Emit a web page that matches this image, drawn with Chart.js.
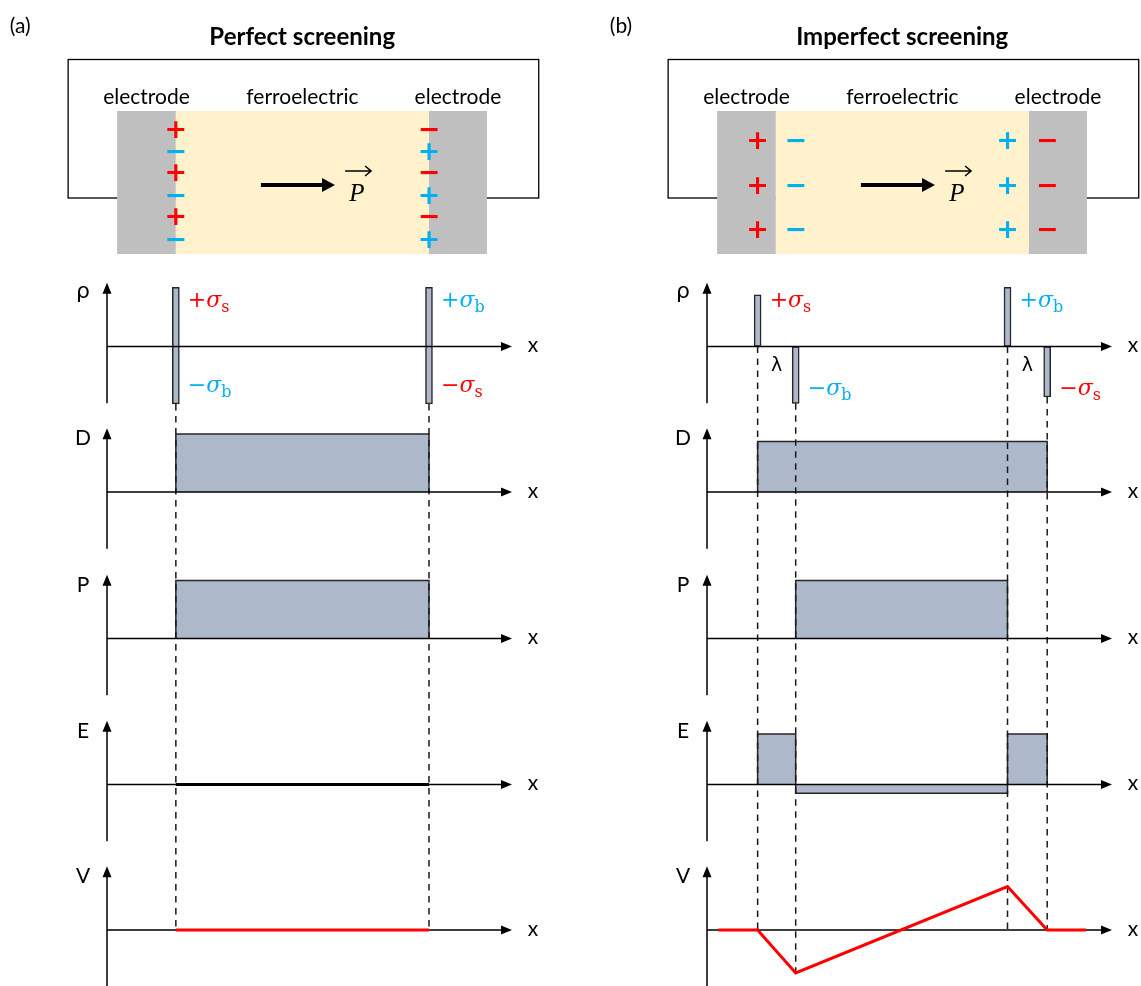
<!DOCTYPE html>
<html>
<head>
<meta charset="utf-8">
<title>Perfect vs imperfect screening</title>
<script src="https://cdn.jsdelivr.net/npm/chart.js@4.4.1/dist/chart.umd.min.js"></script>
<style>
  html, body { margin: 0; padding: 0; background: #fff; }
  #wrap { position: relative; width: 1141px; height: 986px; }
</style>
</head>
<body>
<div id="wrap"><canvas id="chart"></canvas></div>
<script>
// x in arbitrary units: 0 = vertical axis, 100 = tip of the x axis
const interfacesA = [17, 79.5];
const interfacesB = [12.5, 21.9, 74.2, 84];

// surface charge spikes, [low, high]
const rhoA = [[-0.99, 1.02], [-0.99, 1.02]];
const rhoB = [[0, 0.89], [-0.98, 0], [0, 1.02], [-0.87, 0]];

// profiles as [x, value]
const dispA = [[17, 0], [17, 1], [79.5, 1], [79.5, 0]];
const polA = [[17, 0], [17, 1], [79.5, 1], [79.5, 0]];
const fieldA = [[17, 0], [79.5, 0]];
const potA = [[17, 0], [79.5, 0]];

const dispB = [[12.5, 0], [12.5, 0.87], [84, 0.87], [84, 0]];
const polB = [[21.9, 0], [21.9, 1], [74.2, 1], [74.2, 0]];
const fieldB = [[12.5, 0], [12.5, 0.87], [21.9, 0.87], [21.9, -0.15], [74.2, -0.15], [74.2, 0.87], [84, 0.87], [84, 0]];
const potB = [[2.8, 0], [12.5, 0], [21.9, -0.74], [74.2, 0.75], [84, 0], [93.6, 0]];

const rowNames = ["ρ", "D", "P", "E", "V"];

const RED = "#ff0000", CYAN = "#00b0f0", BLUEGREY = "#adb9ca", EDGE = "#262626";

// charge labels: x, value (baseline), sign, subscript, colour
const chargeLabelsA = [[17, 0.68, "+", "s", RED], [17, -0.78, "−", "b", CYAN], [79.5, 0.68, "+", "b", CYAN], [79.5, -0.78, "−", "s", RED]];
const chargeLabelsB = [[12.5, 0.68, "+", "s", RED], [21.9, -0.84, "−", "b", CYAN], [74.2, 0.68, "+", "b", CYAN], [84, -0.84, "−", "s", RED]];

// dashed guides: x, start in the rho row, end in the V row
const guidesA = [[17, -0.99, 0], [79.5, -0.99, 0]];
const guidesB = [[12.5, 0, 0], [21.9, -0.98, -0.74], [74.2, 0, 0], [84, -0.87, 0]];

// charges drawn in the sketch (pixel rows)
const signsA = [
  { x: 17, ys: [128, 171, 215], text: "+", color: RED },
  { x: 17, ys: [150, 194, 238], text: "−", color: CYAN },
  { x: 79.5, ys: [128, 171, 215], text: "−", color: RED },
  { x: 79.5, ys: [150, 194, 238], text: "+", color: CYAN },
];
const signsB = [
  { x: 12.5, ys: [139, 184, 228], text: "+", color: RED },
  { x: 21.9, ys: [139, 184, 228], text: "−", color: CYAN },
  { x: 74.2, ys: [139, 184, 228], text: "+", color: CYAN },
  { x: 84, ys: [139, 184, 228], text: "−", color: RED },
];
const layers = [[2.5, 17, "#bfbfbf", "electrode"], [17, 79.5, "#fff2cc", "ferroelectric"], [79.5, 93.8, "#bfbfbf", "electrode"]];

const panels = [
  { axis: "xa", tag: "(a)", title: "Perfect screening", signs: signsA, charges: chargeLabelsA, guides: guidesA, lambdas: [] },
  { axis: "xb", tag: "(b)", title: "Imperfect screening", signs: signsB, charges: chargeLabelsB, guides: guidesB, lambdas: [[12.5, 21.9], [74.2, 84]] },
];

// layout: where the axes sit on the 1141x986 canvas
const W = 1141, H = 986, PX_X = 4.05, PX_Y = 58;
const panelAxisPx = { xa: 107, xb: 707 };
const rowBasePx = { yRho: 346.5, yD: 492, yP: 638.5, yE: 784.5, yV: 930 };
const rowIds = Object.keys(rowBasePx);

const scales = {};
for (const id in panelAxisPx) {
  scales[id] = { type: "linear", display: false, offset: false, min: -panelAxisPx[id] / PX_X, max: (W - panelAxisPx[id]) / PX_X };
}
for (const id in rowBasePx) {
  scales[id] = { type: "linear", display: false, min: -(H - rowBasePx[id]) / PX_Y, max: rowBasePx[id] / PX_Y };
}

function bars(pairs, xs, xAxisID) {
  return {
    type: "bar", data: xs.map((x, i) => ({ x: x, y: pairs[i] })), xAxisID: xAxisID, yAxisID: "yRho",
    barThickness: 7, grouped: false, borderSkipped: false, order: 2,
    backgroundColor: BLUEGREY, borderColor: EDGE, borderWidth: 1.5,
  };
}
function area(points, xAxisID, yAxisID) {
  return {
    type: "line", data: points.map(([x, y]) => ({ x, y })), xAxisID, yAxisID,
    pointRadius: 0, tension: 0, fill: "origin", order: 2,
    backgroundColor: BLUEGREY, borderColor: EDGE, borderWidth: 1.5,
  };
}
function curve(points, xAxisID, yAxisID, color) {
  return {
    type: "line", data: points.map(([x, y]) => ({ x, y })), xAxisID, yAxisID,
    pointRadius: 0, tension: 0, fill: false, order: 1, onTop: true,
    borderColor: color, borderWidth: 3,
  };
}

function arrowHead(ctx, x, y, dx, dy, len, half) {
  ctx.beginPath();
  ctx.moveTo(x, y);
  ctx.lineTo(x - dx * len - dy * half, y - dy * len + dx * half);
  ctx.lineTo(x - dx * len + dy * half, y - dy * len - dx * half);
  ctx.closePath();
  ctx.fill();
}

function drawSketch(chart) {
  const ctx = chart.ctx;
  ctx.save();
  panels.forEach((p) => {
    const X = (v) => chart.scales[p.axis].getPixelForValue(v);
    ctx.fillStyle = "#000";
    ctx.textBaseline = "middle";
    ctx.textAlign = "left";
    ctx.font = "21px Lato";
    ctx.fillText(p.tag, X(-24), 26);
    ctx.textAlign = "center";
    ctx.font = "bold 24px Lato";
    ctx.fillText(p.title, X(48.2), 37);

    // circuit wire
    ctx.strokeStyle = "#000";
    ctx.lineWidth = 1.3;
    ctx.strokeRect(X(-9.6), 59.5, X(106.6) - X(-9.6), 138.5);

    // electrode / ferroelectric / electrode
    layers.forEach(([a, b, col, name]) => {
      ctx.fillStyle = col;
      ctx.fillRect(X(a), 111, X(b) - X(a), 143);
      ctx.fillStyle = "#000";
      ctx.font = "21px Lato";
      ctx.textAlign = "center";
      ctx.textBaseline = "alphabetic";
      ctx.fillText(name, X((a + b) / 2), 104);
    });

    // charges
    ctx.font = "bold 27px 'DejaVu Sans'";
    p.signs.forEach((s) => {
      ctx.fillStyle = s.color;
      s.ys.forEach((y) => ctx.fillText(s.text, X(s.x), y + 10));
    });

    // polarisation arrow
    ctx.strokeStyle = "#000";
    ctx.fillStyle = "#000";
    ctx.lineWidth = 4;
    ctx.beginPath();
    ctx.moveTo(X(38), 185);
    ctx.lineTo(X(56.3) - 10, 185);
    ctx.stroke();
    arrowHead(ctx, X(56.3), 185, 1, 0, 13, 7);

    ctx.font = "italic 25px 'Liberation Serif'";
    ctx.textAlign = "center";
    ctx.fillText("P", X(61.7), 201);
    ctx.lineWidth = 1.5;
    const vx0 = X(58.8), vx1 = X(65.2);
    ctx.beginPath();
    ctx.moveTo(vx0, 171);
    ctx.lineTo(vx1, 171);
    ctx.moveTo(vx1 - 6, 166);
    ctx.lineTo(vx1, 171);
    ctx.lineTo(vx1 - 6, 176);
    ctx.stroke();
  });
  ctx.restore();
}

function drawAxesAndGuides(chart) {
  const ctx = chart.ctx;
  ctx.save();
  panels.forEach((p) => {
    const X = (v) => chart.scales[p.axis].getPixelForValue(v);
    // dashed guides
    ctx.strokeStyle = "#1a1a1a";
    ctx.lineWidth = 1.5;
    ctx.setLineDash([6.5, 5.5]);
    p.guides.forEach(([x, from, to]) => {
      ctx.beginPath();
      ctx.moveTo(X(x), chart.scales.yRho.getPixelForValue(from));
      ctx.lineTo(X(x), chart.scales.yV.getPixelForValue(to));
      ctx.stroke();
    });
    ctx.setLineDash([]);

    // arrow axes
    ctx.strokeStyle = "#000";
    ctx.fillStyle = "#000";
    ctx.lineWidth = 1.5;
    rowIds.forEach((id) => {
      const Y = (v) => chart.scales[id].getPixelForValue(v);
      const x0 = X(0), x1 = X(100), yb = Y(0), top = Y(1.1);
      ctx.beginPath();
      ctx.moveTo(x0, Y(-0.98));
      ctx.lineTo(x0, top + 9);
      ctx.moveTo(x0, yb);
      ctx.lineTo(x1 - 9, yb);
      ctx.stroke();
      arrowHead(ctx, x0, top, 0, -1, 11, 4.5);
      arrowHead(ctx, x1, yb, 1, 0, 11, 4.5);
    });
  });
  ctx.restore();
}

function drawLabels(chart) {
  const ctx = chart.ctx;
  ctx.save();
  panels.forEach((p) => {
    const X = (v) => chart.scales[p.axis].getPixelForValue(v);
    ctx.fillStyle = "#000";
    ctx.textAlign = "center";
    ctx.textBaseline = "alphabetic";
    rowIds.forEach((id, i) => {
      const yb = chart.scales[id].getPixelForValue(0);
      ctx.font = i === 0 ? "22px 'DejaVu Sans'" : "21px Lato";
      ctx.fillText(rowNames[i], X(0) - 24, yb - (i === 0 ? 49 : 47));
      ctx.font = "21px Lato";
      ctx.fillText("x", X(100) + 21, yb + 5.5);
    });

    // lambda between screening charge and bound charge
    ctx.font = "19px 'DejaVu Sans'";
    p.lambdas.forEach(([a, b]) => {
      ctx.fillText("λ", (X(a) + X(b)) / 2, chart.scales.yRho.getPixelForValue(-0.43));
    });

    // surface charge labels
    ctx.textAlign = "left";
    p.charges.forEach(([x, v, sign, sub, color]) => {
      let cx = X(x) + 12;
      const cy = chart.scales.yRho.getPixelForValue(v);
      ctx.fillStyle = color;
      ctx.font = "22px 'DejaVu Serif'";
      ctx.fillText(sign, cx, cy);
      cx += ctx.measureText(sign).width;
      ctx.font = "italic 22px 'DejaVu Serif'";
      ctx.fillText("σ", cx, cy);
      cx += ctx.measureText("σ").width;
      ctx.font = "16px 'DejaVu Serif'";
      ctx.fillText(sub, cx, cy + 5);
    });
  });
  ctx.restore();
}

const decorations = {
  id: "decorations",
  beforeDatasetsDraw(chart) {
    chart.$axesDone = false;
    drawSketch(chart);
  },
  beforeDatasetDraw(chart, args) {
    const ds = chart.data.datasets[args.index];
    if (ds.onTop && !chart.$axesDone) {
      drawAxesAndGuides(chart);
      chart.$axesDone = true;
    }
  },
  afterDatasetsDraw(chart) {
    drawLabels(chart);
  },
};

new Chart(document.getElementById("chart"), {
  type: "line",
  data: {
    datasets: [
      bars(rhoA, interfacesA, "xa"),
      bars(rhoB, interfacesB, "xb"),
      area(dispA, "xa", "yD"),
      area(polA, "xa", "yP"),
      area(dispB, "xb", "yD"),
      area(polB, "xb", "yP"),
      area(fieldB, "xb", "yE"),
      curve(fieldA, "xa", "yE", "#000"),
      curve(potA, "xa", "yV", RED),
      curve(potB, "xb", "yV", RED),
    ],
  },
  options: {
    responsive: true,
    maintainAspectRatio: false,
    devicePixelRatio: 1,
    animation: false,
    events: [],
    layout: { padding: 0 },
    plugins: { legend: { display: false }, tooltip: { enabled: false } },
    scales: scales,
  },
  plugins: [decorations],
});
</script>
</body>
</html>
